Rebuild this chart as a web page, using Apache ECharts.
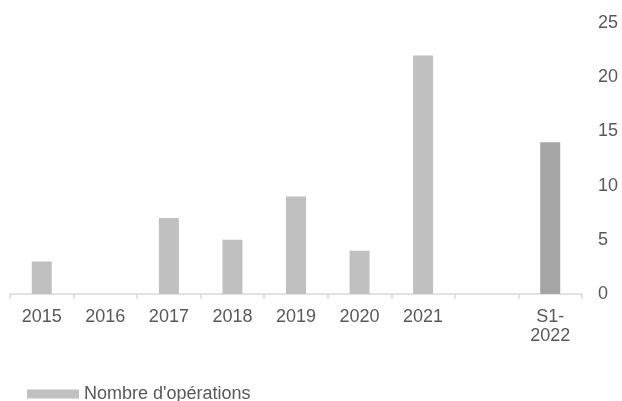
<!DOCTYPE html>
<html>
<head>
<meta charset="utf-8">
<script src="https://cdn.jsdelivr.net/npm/echarts@6/dist/echarts.min.js"></script>
<style>html,body{margin:0;padding:0;background:#fff;}#c{width:622px;height:401px;}</style>
</head>
<body>
<div id="c"></div>
<script>
var categories = ['2015', '2016', '2017', '2018', '2019', '2020', '2021', '', 'S1-\n2022'];
var operations = [3, 0, 7, 5, 9, 4, 22, null, 14];
var yTicks = [0, 5, 10, 15, 20, 25];
var seriesName = "Nombre d'opérations";
var highlightCategory = 'S1-\n2022';

var chart = echarts.init(document.getElementById('c'), null, {renderer: 'canvas'});
chart.setOption({
  animation: false,
  textStyle: {fontFamily: 'Liberation Sans, Arial, sans-serif'},
  grid: {left: 10, right: 40, top: 23, bottom: 107},
  legend: {
    data: [seriesName],
    left: 22, top: 380,
    icon: 'rect', itemWidth: 52, itemHeight: 9, itemGap: 10,
    textStyle: {color: '#595959', fontSize: 18, fontFamily: 'Liberation Sans, Arial, sans-serif'}
  },
  xAxis: {
    type: 'category',
    data: categories,
    axisLine: {show: true, lineStyle: {color: '#d9d9d9', width: 1.5}},
    axisTick: {show: true, length: 5, lineStyle: {color: '#d9d9d9', width: 1.5}},
    axisLabel: {color: '#595959', fontSize: 18, margin: 14, interval: 0, lineHeight: 19}
  },
  yAxis: {
    type: 'value',
    position: 'right',
    min: yTicks[0], max: yTicks[yTicks.length - 1], interval: 5,
    axisLine: {show: false},
    axisTick: {show: false},
    splitLine: {show: false},
    axisLabel: {color: '#595959', fontSize: 18, margin: 16, align: 'left'}
  },
  series: [{
    name: seriesName,
    type: 'bar',
    data: operations,
    barWidth: 20,
    itemStyle: {
      color: function (p) { return p.name === highlightCategory ? '#a5a5a5' : '#c0c0c0'; }
    }
  }],
  color: ['#c0c0c0']
});
</script>
</body>
</html>
